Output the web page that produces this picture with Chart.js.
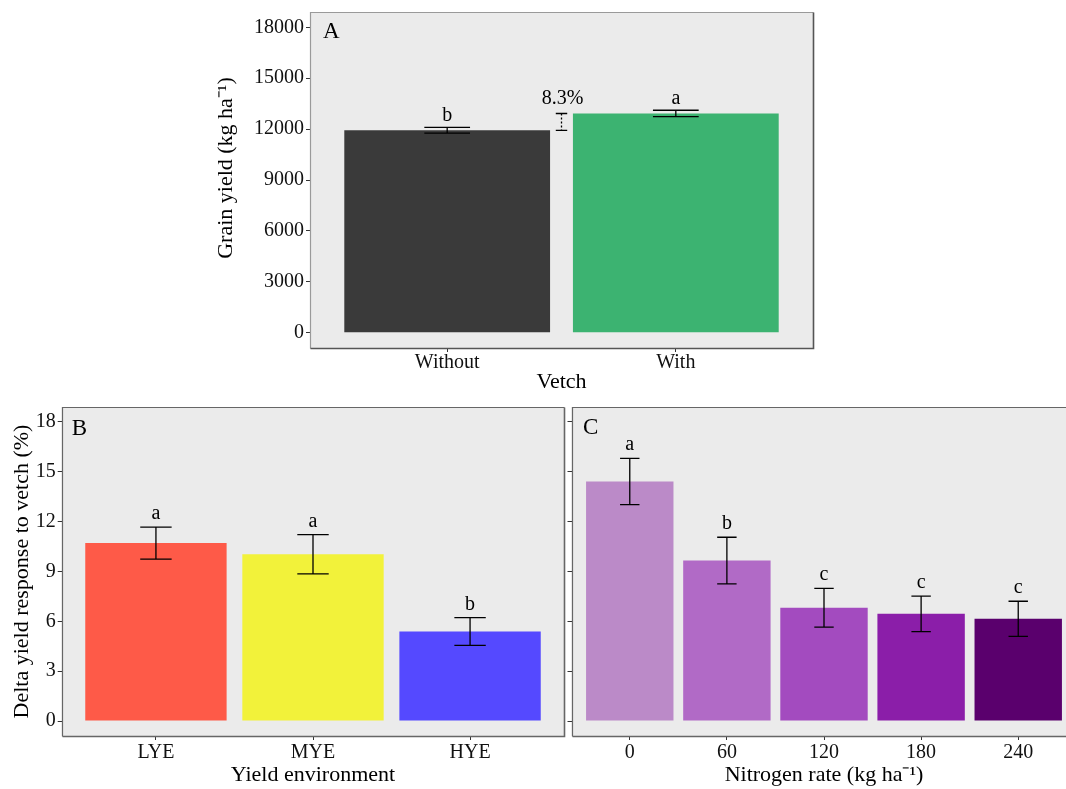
<!DOCTYPE html>
<html><head><meta charset="utf-8">
<script src="https://cdn.jsdelivr.net/npm/chart.js@4/dist/chart.umd.min.js"></script>
<style>
html,body{margin:0;padding:0;width:1066px;height:789px;overflow:hidden;background:#fff;}
canvas{position:absolute;}
</style></head><body>
<canvas id="cA" width="640" height="395" style="left:200px;top:0px"></canvas>
<canvas id="cB" width="600" height="394" style="left:0px;top:395px"></canvas>
<canvas id="cC" width="600" height="394" style="left:500px;top:395px"></canvas>
<script>
// ---------- data ----------
const vetchCats = ['Without', 'With'];
const vetchYield = [11930, 12920];
const vetchSE = [170, 190];
const vetchLetters = ['b', 'a'];
const vetchIncrease = '8.3%';
const yieldTicks = [0, 3000, 6000, 9000, 12000, 15000, 18000];

const envCats = ['LYE', 'MYE', 'HYE'];
const envDelta = [10.71, 10.04, 5.39];
const envSE = [0.96, 1.18, 0.84];
const envLetters = ['a', 'a', 'b'];

const nCats = ['0', '60', '120', '180', '240'];
const nDelta = [14.42, 9.66, 6.82, 6.45, 6.15];
const nSE = [1.39, 1.40, 1.17, 1.07, 1.06];
const nLetters = ['a', 'b', 'c', 'c', 'c'];
const deltaTicks = [0, 3, 6, 9, 12, 15, 18];

// ---------- styles ----------
const FAM = "'Liberation Serif', 'Times New Roman', serif";
const colA = ['#3a3a3a', '#3cb371'];
const colB = ['#fe5a48', '#f2f23a', '#5549ff'];
const colC = ['#bb8ac8', '#b16ac6', '#a34bbf', '#8b1ea9', '#5a006d'];

function makePanel(id, o) {
  const n = o.cats.length;
  const panelPlugin = {
    id: 'panel_' + id,
    beforeDraw(chart) {
      const {ctx, chartArea: a} = chart;
      ctx.save();
      ctx.fillStyle = '#ebebeb';
      ctx.fillRect(a.left, a.top, a.right - a.left, a.bottom - a.top);
      ctx.restore();
    },
    afterDatasetsDraw(chart) {
      const {ctx, chartArea: a} = chart;
      const xs = chart.scales.x, ys = chart.scales.y;
      ctx.save();
      // error bars
      ctx.strokeStyle = '#000';
      ctx.lineWidth = 1.3;
      o.vals.forEach((v, i) => {
        const x = xs.getPixelForValue(i + 1);
        const xl = xs.getPixelForValue(i + 1 - 0.1), xr = xs.getPixelForValue(i + 1 + 0.1);
        const yt = ys.getPixelForValue(v + o.se[i]), yb = ys.getPixelForValue(v - o.se[i]);
        ctx.beginPath();
        ctx.moveTo(x, yt); ctx.lineTo(x, yb);
        ctx.moveTo(xl, yt); ctx.lineTo(xr, yt);
        ctx.moveTo(xl, yb); ctx.lineTo(xr, yb);
        ctx.stroke();
        // significance letters
        ctx.fillStyle = '#000';
        ctx.font = '20px ' + FAM;
        ctx.textAlign = 'center';
        ctx.textBaseline = 'alphabetic';
        ctx.fillText(o.letters[i], x, yt - o.letterGap);
      });
      if (o.bracket) {
        const xm = xs.getPixelForValue(1.5);
        const xl = xs.getPixelForValue(1.5 - 0.025), xr = xs.getPixelForValue(1.5 + 0.025);
        const y1 = ys.getPixelForValue(o.vals[1]), y0 = ys.getPixelForValue(o.vals[0]);
        ctx.beginPath();
        ctx.moveTo(xl, y1); ctx.lineTo(xr, y1);
        ctx.moveTo(xl, y0); ctx.lineTo(xr, y0);
        ctx.stroke();
        ctx.setLineDash([2, 2]);
        ctx.beginPath();
        ctx.moveTo(xm, y1); ctx.lineTo(xm, y0);
        ctx.stroke();
        ctx.setLineDash([]);
        ctx.font = '20px ' + FAM;
        ctx.fillText(o.bracket, xm + 1, y1 - 9);
      }
      // panel tag
      ctx.font = '23px ' + FAM;
      ctx.textAlign = 'left';
      ctx.fillText(o.tag, a.left + o.tagDx, a.top + o.tagDy);
      ctx.restore();
    },
    afterDraw(chart) {
      const {ctx, chartArea: a} = chart;
      ctx.save();
      const L = Math.round(a.left) + 0.5, R = Math.round(a.right) + 0.5,
            T = Math.round(a.top) + 0.5, B = Math.round(a.bottom) + 0.5;
      ctx.lineWidth = 1.2;
      ctx.strokeStyle = o.frameLT;
      ctx.beginPath(); ctx.moveTo(L, B); ctx.lineTo(L, T); ctx.lineTo(R, T); ctx.stroke();
      ctx.strokeStyle = o.frameRB;
      ctx.lineWidth = 1.6;
      ctx.beginPath(); ctx.moveTo(R, T); ctx.lineTo(R, B); ctx.lineTo(L, B); ctx.stroke();
      if (o.yTitleCustom) {
        const t = o.yTitleCustom;
        ctx.translate(t.x, (a.top + a.bottom) / 2 + t.dy);
        ctx.rotate(-Math.PI / 2);
        ctx.font = '22px ' + FAM;
        ctx.fillStyle = '#000';
        ctx.textAlign = 'center';
        ctx.textBaseline = 'middle';
        ctx.fillText(t.text, 0, 0);
      }
      ctx.restore();
    }
  };

  return new Chart(document.getElementById(id), {
    type: 'bar',
    data: {
      datasets: [{
        data: o.vals.map((v, i) => ({x: i + 1, y: v})),
        backgroundColor: o.colors,
        borderWidth: 0,
        barPercentage: 0.9,
        categoryPercentage: 1.0
      }]
    },
    options: {
      responsive: false,
      animation: false,
      devicePixelRatio: 1,
      layout: {padding: {top: o.padTop, right: o.padRight, left: 0, bottom: 0}},
      plugins: {legend: {display: false}, tooltip: {enabled: false}},
      scales: {
        x: {
          type: 'linear', min: 0.4, max: n + 0.6, offset: false,
          afterBuildTicks: s => { s.ticks = o.cats.map((c, i) => ({value: i + 1})); },
          afterFit: s => { s.height = o.xH; },
          ticks: {
            callback: (v, i) => o.cats[i],
            font: {family: FAM, size: 20, lineHeight: 1},
            color: '#111', padding: o.xTickPad, maxRotation: 0, autoSkip: false
          },
          grid: {drawOnChartArea: false, drawTicks: true, tickLength: 4, color: '#333', offset: false},
          border: {display: false},
          title: {display: true, text: o.xTitle, color: '#000',
                  font: {family: FAM, size: 22}, padding: {top: 0, bottom: o.xTitlePad}}
        },
        y: {
          min: o.yMin, max: o.yMax,
          afterBuildTicks: s => { s.ticks = o.yTicks.map(v => ({value: v})); },
          afterFit: s => { s.width = o.yW; },
          ticks: {
            callback: v => o.showY ? String(v) : '',
            font: {family: FAM, size: 20, lineHeight: 1},
            color: '#111', padding: 2
          },
          grid: {drawOnChartArea: false, drawTicks: true, tickLength: 4, color: '#333'},
          border: {display: false},
          title: {display: !!o.yTitle, text: o.yTitle || '', color: '#000',
                  font: {family: FAM, size: 22}, padding: {top: o.yTitlePad || 0, bottom: 0}}
        }
      }
    },
    plugins: [panelPlugin]
  });
}

makePanel('cA', {
  cats: vetchCats, vals: vetchYield, se: vetchSE, letters: vetchLetters, colors: colA,
  yMin: -900, yMax: 18900, yTicks: yieldTicks, showY: true,
  padTop: 12, padRight: 27, yW: 110, xH: 47, xTickPad: 1, xTitlePad: 0,
  xTitle: 'Vetch', yTitle: null,
  yTitleCustom: {text: 'Grain yield (kg ha\u207B\u00B9)', x: 26, dy: -12},
  letterGap: 6, bracket: vetchIncrease, tag: 'A', tagDx: 13, tagDy: 26,
  frameLT: '#9a9a9a', frameRB: '#555'
});

makePanel('cB', {
  cats: envCats, vals: envDelta, se: envSE, letters: envLetters, colors: colB,
  yMin: -0.9, yMax: 18.9, yTicks: deltaTicks, showY: true,
  padTop: 5, padRight: 35.7, yW: 61.7, xH: 53, xTickPad: 3, xTitlePad: 1,
  xTitle: 'Yield environment', yTitle: 'Delta yield response to vetch (%)', yTitlePad: 9,
  letterGap: 8, tag: 'B', tagDx: 10, tagDy: 28,
  frameLT: '#666', frameRB: '#666'
});

makePanel('cC', {
  cats: nCats, vals: nDelta, se: nSE, letters: nLetters, colors: colC,
  yMin: -0.9, yMax: 18.9, yTicks: deltaTicks, showY: false,
  padTop: 5, padRight: 23.5, yW: 71.5, xH: 53, xTickPad: 3, xTitlePad: 1,
  xTitle: 'Nitrogen rate (kg ha\u207B\u00B9)', yTitle: null,
  letterGap: 8, tag: 'C', tagDx: 11.5, tagDy: 27,
  frameLT: '#666', frameRB: '#666'
});
</script>
</body></html>
